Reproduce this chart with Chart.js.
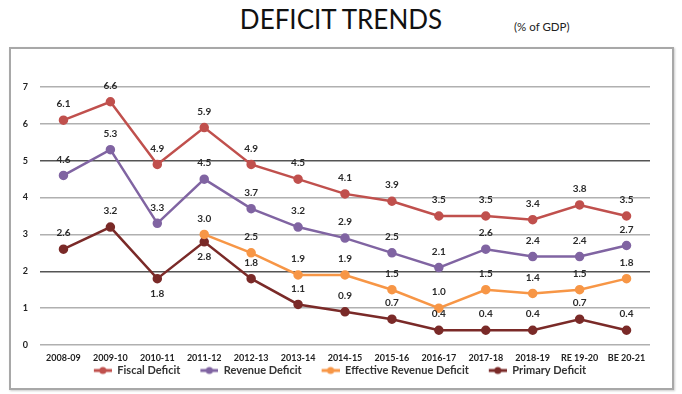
<!DOCTYPE html>
<html>
<head>
<meta charset="utf-8">
<script src="https://cdn.jsdelivr.net/npm/chart.js@4"></script>
<style>
  body { margin: 0; background: #fff; }
  #wrap { position: relative; width: 682px; height: 394px; }
  #title { position: absolute; left: 0; width: 682px; top: 3px; text-align: center;
    font-family: Lato, sans-serif; font-size: 26px; color: #111; }
  #unit { position: absolute; left: 514px; top: 20px; font-family: Lato, sans-serif;
    font-size: 11.5px; color: #222; }
  #box { position: absolute; left: 9px; top: 47px; width: 661px; height: 339px;
    border: 2px solid #a8a8a8; box-shadow: 1px 1px 2px #ccc; }
  canvas { position: absolute; left: 0; top: 0; }
</style>
</head>
<body>
<div id="wrap">
  <div id="title">DEFICIT TRENDS</div>
  <div id="unit">(% of GDP)</div>
  <div id="box"></div>
  <canvas id="canvas" width="682" height="394"></canvas>
</div>
<script>
const years = ["2008-09", "2009-10", "2010-11", "2011-12", "2012-13", "2013-14", "2014-15",
    "2015-16", "2016-17", "2017-18", "2018-19", "RE 19-20", "BE 20-21"];
const fiscalDeficit = [6.1, 6.6, 4.9, 5.9, 4.9, 4.5, 4.1, 3.9, 3.5, 3.5, 3.4, 3.8, 3.5];
const revenueDeficit = [4.6, 5.3, 3.3, 4.5, 3.7, 3.2, 2.9, 2.5, 2.1, 2.6, 2.4, 2.4, 2.7];
const effectiveRevenueDeficit = [null, null, null, 3.0, 2.5, 1.9, 1.9, 1.5, 1.0, 1.5, 1.4, 1.5, 1.8];
const primaryDeficit = [2.6, 3.2, 1.8, 2.8, 1.8, 1.1, 0.9, 0.7, 0.4, 0.4, 0.4, 0.7, 0.4];
const yTicks = [0, 1, 2, 3, 4, 5, 6, 7];

const COLORS = ["#c0504d", "#8064a2", "#f79646", "#7a2a28"];
const FONT = "Lato, sans-serif";

// labels drawn under the point instead of above (dataset index -> point indexes)
const labelsBelow = {3: [2, 3]};

// legend marker: short line with a dot, transparent gap on the left
function legendIcon(color) {
    let c = document.createElement('canvas');
    c.width = 36; c.height = 10;
    let g = c.getContext('2d');
    g.strokeStyle = color; g.lineWidth = 3;
    g.beginPath(); g.moveTo(18, 5); g.lineTo(36, 5); g.stroke();
    g.fillStyle = color;
    g.beginPath(); g.arc(27, 5, 3.5, 0, Math.PI * 2); g.fill();
    return c;
}

const valueLabels = {
    id: 'valueLabels',
    afterDatasetsDraw(chart) {
        let ctx = chart.ctx;
        ctx.save();
        ctx.font = "bold 10px " + FONT;
        ctx.fillStyle = "#2a2a2a";
        ctx.textAlign = "center";
        ctx.textBaseline = "middle";
        chart.data.datasets.forEach((ds, di) => {
            let meta = chart.getDatasetMeta(di);
            meta.data.forEach((pt, i) => {
                let v = ds.data[i];
                if (v === null) return;
                let below = (labelsBelow[di] || []).includes(i);
                ctx.fillText(v.toFixed(1), pt.x, below ? pt.y + 15 : pt.y - 16);
            });
        });
        ctx.restore();
    }
};

function makeSet(label, data, color) {
    return {
        label: label,
        data: data,
        borderColor: color,
        backgroundColor: color,
        borderWidth: 2.5,
        pointRadius: 3.5,
        pointHoverRadius: 3.5,
        tension: 0
    };
}

let ctx = document.getElementById('canvas').getContext("2d");
let chart = new Chart(ctx, {
    type: 'line',
    data: {
        labels: years,
        datasets: [
            makeSet("Fiscal Deficit", fiscalDeficit, COLORS[0]),
            makeSet("Revenue Deficit", revenueDeficit, COLORS[1]),
            makeSet("Effective Revenue Deficit", effectiveRevenueDeficit, COLORS[2]),
            makeSet("Primary Deficit", primaryDeficit, COLORS[3])
        ]
    },
    options: {
        responsive: false,
        animation: false,
        layout: { padding: { left: 12, right: 32, top: 87, bottom: 8 } },
        plugins: {
            tooltip: { enabled: false },
            legend: {
                position: 'bottom',
                labels: {
                    usePointStyle: true,
                    pointStyleWidth: 36,
                    boxHeight: 10,
                    padding: 2,
                    color: "#333",
                    font: { family: FONT, size: 11, weight: 'bold' },
                    generateLabels: chart => {
                        let items = Chart.defaults.plugins.legend.labels.generateLabels(chart);
                        items.forEach((it, i) => { it.pointStyle = legendIcon(COLORS[i]); });
                        return items;
                    }
                }
            }
        },
        scales: {
            x: {
                offset: true,
                afterFit: s => { s.height = 18; },
                grid: { display: false, drawTicks: false, tickLength: 0 },
                border: { display: false },
                ticks: { color: "#222", maxRotation: 0, autoSkip: false, padding: 8,
                    font: { family: FONT, size: 9, weight: 'bold' } }
            },
            y: {
                min: 0,
                max: 7,
                afterBuildTicks: s => { s.ticks = yTicks.map(v => ({value: v})); },
                afterFit: s => { s.width = 28; },
                border: { display: false },
                grid: {
                    drawTicks: false,
                    lineWidth: 1.5,
                    color: c => (c.tick && (c.tick.value === 2 || c.tick.value === 5)) ? "#555" : "#b0b0b0"
                },
                ticks: { color: "#222", padding: 12,
                    font: { family: FONT, size: 9, weight: 'bold' } }
            }
        }
    },
    plugins: [valueLabels]
});
</script>
</body>
</html>
